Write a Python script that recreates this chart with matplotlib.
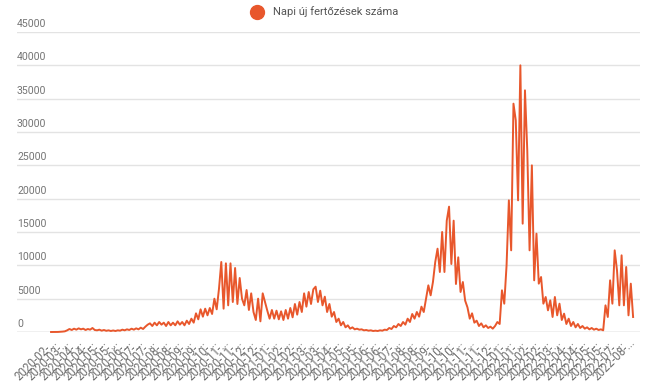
#Daily new infections chart (Napi új fertőzések száma), 2020-02 .. 2022-08
import numpy as np
import matplotlib.pyplot as plt
from matplotlib.lines import Line2D
from matplotlib.transforms import offset_copy

plt.rcParams['font.family'] = ['Roboto', 'DejaVu Sans']

#values, roughly two points per week (peak / dip)
napi_esetek = [
    0, 0, 0, 10, 30, 60, 100,
    250, 450, 300, 500, 350, 550, 400, 500, 300, 450, 350, 600, 300,
    250, 350, 200, 300, 180, 250, 150, 230, 150, 250, 200,
    350, 250, 400, 300, 500, 350, 550, 400, 650, 450, 800,
    1100, 1300, 900, 1400, 1000, 1500, 1100, 1400, 900, 1500, 1000, 1400, 1000, 1600, 1100, 1500, 1000, 1700, 1200,
    2000, 1400, 2800, 1900, 3400,
    2300, 3500, 2500, 3600, 2700, 5000, 3400, 6500, 10500,
    3500, 10300, 4000, 10300, 4500, 9600, 4200, 8100, 5000, 4000,
    6300, 3300, 5800, 3000, 1800, 5000, 1600, 5800, 4500, 3200,
    2000, 3300, 2000, 3200, 1900, 3100, 1800, 3300, 2000, 3600,
    2200, 4200, 2600, 4500, 3000, 5800, 3800, 6000, 4200, 6400,
    6800, 4500, 6200, 4000, 5300, 3000, 4200, 2300, 3000, 1500,
    2000, 1000, 1500, 700, 1000, 500, 700, 400, 500, 350,
    400, 250, 300, 200, 250, 150, 200, 150, 250, 200, 350, 300,
    600, 450, 900, 700, 1200, 900, 1500, 1100, 2000, 1500, 2700, 2000, 3000, 2300,
    3800, 3000, 5000, 7000, 5500, 7500, 10500, 12500, 9000, 15000,
    9000, 16700, 18800, 10200, 16700, 7200, 11200, 6000, 7500, 4700,
    3700, 2000, 2800, 1400, 1700, 900, 1300, 700, 1000, 600,
    800, 500, 900, 1500, 1200, 6250, 4250,
    10000, 19750, 12250, 34250, 31750, 19750, 40000, 16250, 36250, 27250,
    12250, 25000, 7750, 14750, 7250, 8250, 4250, 5250, 3250, 4750,
    2250, 5250, 2500, 4250, 1800, 2750, 1200, 2000, 900, 1500,
    700, 1200, 600, 900, 500, 700, 400, 600, 350, 500,
    300, 400, 250,
    4000, 2250, 7750, 4250, 12250, 9250, 4000, 11500, 4000, 9750, 2500, 7250, 2250,
]

#x axis labels (truncated dates as shown on the chart)
honapok = [
    '2020-02', '2020-03', '2020-04', '2020-04', '2020-05', '2020-05', '2020-06', '2020-07',
    '2020-07', '2020-08', '2020-08', '2020-09', '2020-09', '2020-10', '2020-11', '2020-11',
    '2020-12', '2020-12', '2021-01', '2021-02', '2021-02', '2021-03', '2021-03', '2021-04',
    '2021-05', '2021-05', '2021-06', '2021-06', '2021-07', '2021-08', '2021-08', '2021-09',
    '2021-10', '2021-10', '2021-11', '2021-11', '2021-12', '2022-01', '2022-01', '2022-02',
    '2022-02', '2022-03', '2022-04', '2022-04', '2022-05', '2022-05', '2022-07', '2022-08',
]
y_ticks = [0, 5000, 10000, 15000, 20000, 25000, 30000, 35000, 40000, 45000]

W, H = 646, 385
fig = plt.figure(figsize=(W / 100, H / 100), dpi=100)
ax = fig.add_axes([17 / W, 53 / H, 623 / W, 300 / H])

x = np.arange(len(napi_esetek))
ax.plot(x, napi_esetek, color='#E8572C', lw=1.4, clip_on=False, zorder=3)

ax.set_xlim(-14.8, 256.0)
ax.set_ylim(0, 45000)

#horizontal gridlines, labels sit above each line at the left
ax.set_yticks(y_ticks)
ax.tick_params(axis='y', length=0, labelleft=False)
ax.grid(axis='y', color='#e3e3e3', lw=1)
ax.axhline(0, color='#cccccc', lw=1, zorder=2)
trans = offset_copy(ax.get_yaxis_transform(), fig=fig, x=0, y=3, units='dots')
for v in y_ticks:
    ax.text(0, v, str(v), transform=trans, ha='left', va='bottom',
            fontsize=7.6, color='#757575')

tick_pos = np.linspace(1.7, 253, len(honapok))
ax.set_xticks(tick_pos)
ax.set_xticklabels([m + '-...' for m in honapok], rotation=45, ha='right',
                   rotation_mode='anchor', va='center', fontsize=8.3, color='#6f6f6f')
ax.tick_params(axis='x', length=0, pad=6)

for s in ax.spines.values():
    s.set_visible(False)

#legend at the top
fig.add_artist(Line2D([257 / W], [1 - 12 / H], marker='o', markersize=10,
                      color='#E8572C', transform=fig.transFigure))
fig.text(273 / W, 1 - 12 / H, 'Napi új fertőzések száma', ha='left', va='center',
         fontsize=8, color='#555555')

fig.savefig('out.png', dpi=100)
